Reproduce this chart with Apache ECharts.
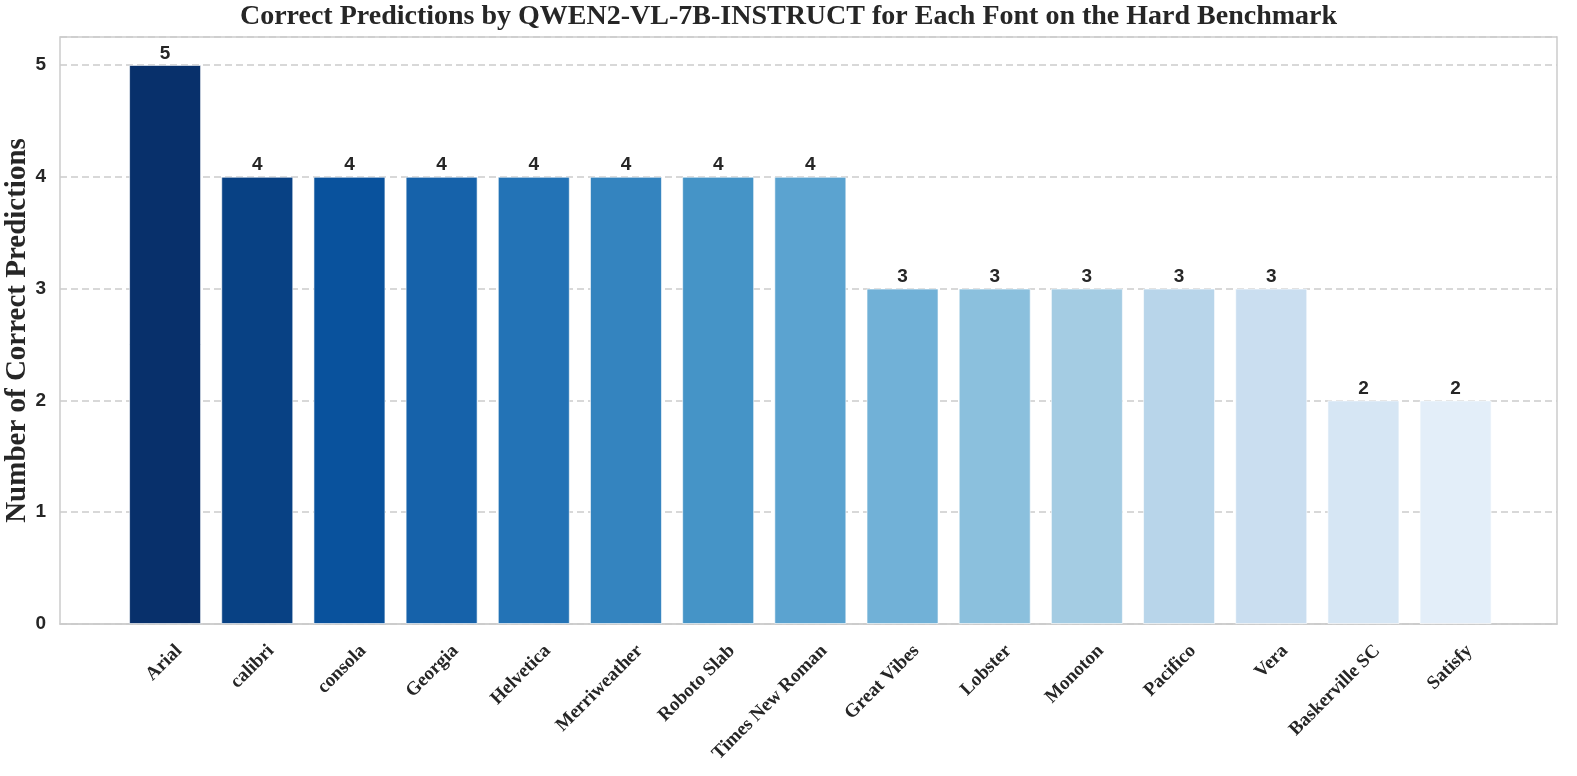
<!DOCTYPE html>
<html>
<head>
<meta charset="utf-8">
<script src="https://cdn.jsdelivr.net/npm/echarts@6/dist/echarts.min.js"></script>
<style>html,body{margin:0;padding:0;background:#fff;}#c{width:1577px;height:776px;}</style>
</head>
<body>
<div id="c"></div>
<script>
const categories = ['Arial','calibri','consola','Georgia','Helvetica','Merriweather','Roboto Slab','Times New Roman','Great Vibes','Lobster','Monoton','Pacifico','Vera','Baskerville SC','Satisfy'];
const correctCounts = [5,4,4,4,4,4,4,4,3,3,3,3,3,2,2];
const yTicks = [0,1,2,3,4,5];
const barColors = ['#08306b','#084184','#09529d','#1662aa','#2373b6','#3484bf','#4594c7','#5ba3d0','#71b1d7','#8bc0dd','#a4cce3','#b8d5ea','#cadef0','#d6e6f4','#e3eef9'];

const chart = echarts.init(document.getElementById('c'), null, {renderer:'canvas'});
const serif = '"Liberation Serif", "Times New Roman", serif';
const sans = '"Liberation Sans", Arial, sans-serif';
const labelShift = 0.15; // horizontal nudge of rotated tick labels (axis units)
chart.setOption({
  animation: false,
  backgroundColor: '#ffffff',
  title: {
    text: 'Correct Predictions by QWEN2-VL-7B-INSTRUCT for Each Font on the Hard Benchmark',
    left: 'center', top: -2,
    textStyle: {fontFamily: serif, fontWeight: 'bold', fontSize: 28, color: '#262626'}
  },
  grid: {left: 60, right: 20, top: 37, bottom: 152, containLabel: false, outerBoundsMode: 'none',
         show: true, borderColor: '#cccccc', borderWidth: 1.5, backgroundColor: 'transparent'},
  xAxis: {
    type: 'value', min: -1.14, max: 15.1,
    axisLine: {show: true, onZero: false, lineStyle: {color: '#cccccc', width: 1.5}},
    axisTick: {show: false},
    splitLine: {show: false},
    axisLabel: {
      customValues: categories.map((c, i) => i + labelShift),
      formatter: v => categories[Math.round(v - labelShift)] || '',
      rotate: 45, margin: 24,
      fontFamily: serif, fontWeight: 'bold', fontSize: 19, color: '#262626'
    }
  },
  yAxis: {
    type: 'value', min: 0, max: 5.25, interval: 1,
    name: 'Number of Correct Predictions', nameLocation: 'middle', nameGap: 28,
    nameMoveOverlap: false,
    nameTextStyle: {fontFamily: serif, fontWeight: 'bold', fontSize: 29, color: '#262626'},
    axisLine: {show: false},
    axisTick: {show: false},
    axisLabel: {
      customValues: yTicks,
      margin: 14, fontFamily: sans, fontWeight: 'bold', fontSize: 19, color: '#262626'
    },
    splitLine: {show: true, lineStyle: {color: '#cccccc', type: [7, 4], width: 1.5}}
  },
  series: [{
    type: 'bar',
    data: correctCounts.map((v, i) => ({value: [i, v], itemStyle: {color: barColors[i]}})),
    barWidth: 72,
    itemStyle: {borderColor: 'rgba(255,255,255,0.6)', borderWidth: 1},
    label: {
      show: true, position: 'top', distance: 2,
      formatter: p => p.value[1],
      fontFamily: sans, fontWeight: 'bold', fontSize: 19, color: '#262626'
    }
  }]
});
</script>
</body>
</html>
